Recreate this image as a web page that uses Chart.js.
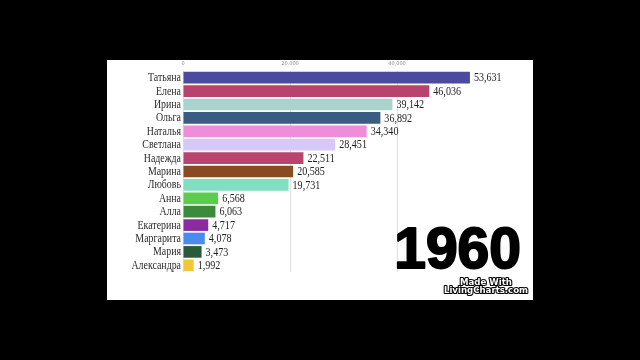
<!DOCTYPE html>
<html>
<head>
<meta charset="utf-8">
<script src="https://cdn.jsdelivr.net/npm/chart.js@4"></script>
<style>
html,body{margin:0;padding:0;background:#000;}
#wrap{width:640px;height:360px;}
</style>
</head>
<body>
<div id="wrap"><canvas id="c" width="640" height="360"></canvas></div>
<script>
const names = ["Татьяна","Елена","Ирина","Ольга","Наталья","Светлана","Надежда","Марина","Любовь","Анна","Алла","Екатерина","Маргарита","Мария","Александра"];
const counts = [53631,46036,39142,36892,34340,28451,22511,20585,19731,6568,6063,4717,4078,3473,1992];
const tickValues = [0,20000,40000];
const yearLabel = "1960";
const watermark = ["Made With","LivingCharts.com"];

const barColors = ["#4b4a9f","#b8436f","#a9d3cc","#3a5b82","#ee8ed8","#d7c9f7","#b9456f","#8a4a22","#7fdfc0","#5ccb4f","#3c8a3c","#8a2b9f","#4b8bef","#2b5a3b","#f2c832"];

const bgPlugin = {
  id:'bg',
  beforeDraw(chart){
    const ctx = chart.ctx;
    ctx.save();
    ctx.fillStyle = '#000';
    ctx.fillRect(0,0,chart.width,chart.height);
    ctx.fillStyle = '#fff';
    ctx.fillRect(107,60,426,240);
    ctx.restore();
  }
};

function squeezeText(ctx, text, x, y, sx){
  ctx.save();
  ctx.translate(x, y);
  ctx.scale(sx, 1);
  ctx.fillText(text, 0, 0);
  ctx.restore();
}

const labelPlugin = {
  id:'vals',
  afterDatasetsDraw(chart){
    const ctx = chart.ctx;
    const meta = chart.getDatasetMeta(0);
    const ys = chart.scales.y;
    ctx.save();
    ctx.font = '12px "Liberation Serif"';
    ctx.fillStyle = '#222';
    ctx.textAlign = 'left';
    ctx.textBaseline = 'middle';
    meta.data.forEach((bar,i)=>{
      squeezeText(ctx, counts[i].toLocaleString('en-US'), bar.x + 4, bar.y + 0.5, 0.84);
    });
    ctx.font = '11.5px "Liberation Serif"';
    ctx.fillStyle = '#2a2a2a';
    ctx.textAlign = 'right';
    names.forEach((n,i)=>{
      squeezeText(ctx, n, ys.right - 2, ys.getPixelForValue(i) + 0.5, 0.86);
    });
    ctx.restore();
  },
  afterDraw(chart){
    const ctx = chart.ctx;
    ctx.save();
    ctx.font = 'bold 57px "Liberation Sans"';
    ctx.fillStyle = '#000';
    ctx.strokeStyle = '#000';
    ctx.lineWidth = 2;
    ctx.lineJoin = 'round';
    ctx.textAlign = 'right';
    ctx.textBaseline = 'alphabetic';
    ctx.fillText(yearLabel, 521, 268);
    ctx.strokeText(yearLabel, 521, 268);
    ctx.font = 'bold 8.6px "DejaVu Sans"';
    ctx.textAlign = 'center';
    ctx.lineWidth = 2.2;
    ctx.fillStyle = '#fff';
    ctx.strokeText(watermark[0], 486, 285);
    ctx.fillText(watermark[0], 486, 285);
    ctx.strokeText(watermark[1], 486, 293);
    ctx.fillText(watermark[1], 486, 293);
    ctx.restore();
  }
};

new Chart(document.getElementById('c'), {
  type:'bar',
  data:{
    labels:names,
    datasets:[{data:counts, backgroundColor:barColors, borderWidth:0, barPercentage:0.87, categoryPercentage:1}]
  },
  options:{
    indexAxis:'y',
    responsive:false,
    animation:false,
    layout:{padding:{left:0,top:0,right:136,bottom:88}},
    plugins:{legend:{display:false},tooltip:{enabled:false}},
    scales:{
      x:{
        position:'top',
        min:0,max:60000,
        afterBuildTicks(scale){ scale.ticks = tickValues.map(v=>({value:v})); },
        afterFit(scale){ scale.height = 71; },
        border:{display:false},
        grid:{color:'#e2e2e2',lineWidth:1,drawTicks:false},
        ticks:{font:{size:5,family:'"DejaVu Sans"'},color:'#888',padding:4,
          callback:(v)=>Number(v).toLocaleString('en-US')}
      },
      y:{
        afterFit(scale){ scale.width = 183; },
        border:{display:false},
        grid:{display:false,drawTicks:false},
        ticks:{display:false,autoSkip:false}
      }
    }
  },
  plugins:[bgPlugin,labelPlugin]
});
</script>
</body>
</html>
